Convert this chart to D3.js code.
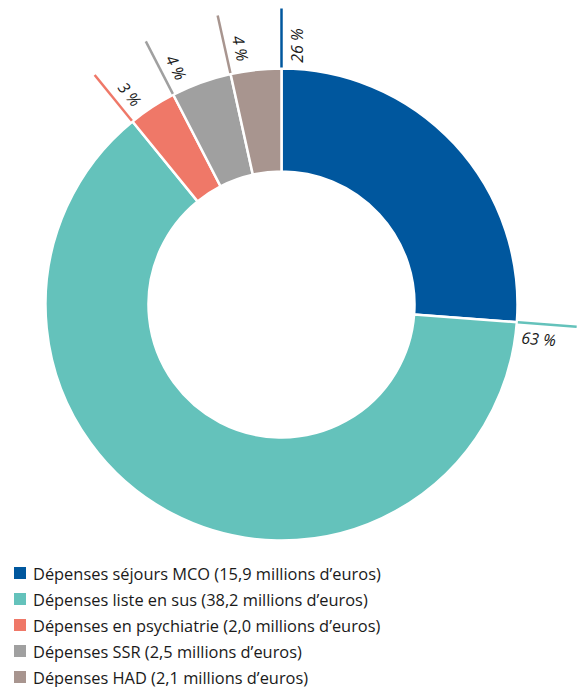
<!DOCTYPE html>
<html><head><meta charset="utf-8">
<script src="https://cdn.jsdelivr.net/npm/d3@7"></script>
<style>body{margin:0;background:#fff}svg{display:block}</style>
</head><body>
<svg id="c" width="577" height="687"></svg>
<script>
const categories = ["Dépenses séjours MCO (15,9 millions d’euros)","Dépenses liste en sus (38,2 millions d’euros)","Dépenses en psychiatrie (2,0 millions d’euros)","Dépenses SSR (2,5 millions d’euros)","Dépenses HAD (2,1 millions d’euros)"];
const values = [15.9, 38.2, 2.0, 2.5, 2.1];
const pctLabels = ["26 %","63 %","3 %","4 %","4 %"];
const colors = ["#00579e","#64c2bb","#ef7868","#a0a0a0","#a8958f"];

const svg = d3.select("#c");
const cx = 281.5, cy = 304.5, R = 236, r0 = 133, Rline = 296;
const g = svg.append("g").attr("transform",`translate(${cx},${cy})`);
const pie = d3.pie().sort(null).value(d=>d);
const arcs = pie(values);
const arc = d3.arc().innerRadius(r0).outerRadius(R);
g.selectAll("path.s").data(arcs).join("path").attr("class","s")
  .attr("d",arc).attr("fill",(d,i)=>colors[i]).attr("stroke","#fff").attr("stroke-width",2.5);

// leader lines at each slice's start angle
g.selectAll("line.l").data(arcs).join("line").attr("class","l")
  .attr("x1",d=>Math.sin(d.startAngle)*(R+1)).attr("y1",d=>-Math.cos(d.startAngle)*(R+1))
  .attr("x2",d=>Math.sin(d.startAngle)*Rline).attr("y2",d=>-Math.cos(d.startAngle)*Rline)
  .attr("stroke",(d,i)=>colors[i]).attr("stroke-width",2.5);

// labels
const labR = 259, off = 15;
g.selectAll("text.p").data(arcs).join("text").attr("class","p")
  .attr("transform",(d,i)=>{
    const a = d.startAngle;
    const ux = Math.sin(a), uy = -Math.cos(a);      // outward
    const px = Math.cos(a), py = Math.sin(a);       // clockwise perpendicular
    const x = ux*labR + px*off, y = uy*labR + py*off;
    let rot = Math.atan2(uy, ux)*180/Math.PI;       // reading outward
    if (rot > 90 || rot < -90) rot += 180;
    if (rot > 180) rot -= 360;
    return `translate(${x},${y}) rotate(${rot})`;
  })
  .attr("text-anchor","middle").attr("dominant-baseline","central")
  .attr("font-family","'Open Sans', sans-serif").attr("font-style","italic").attr("font-size",16).attr("fill","#1a1a1a")
  .text((d,i)=>pctLabels[i]);

// legend
const leg = svg.append("g");
const y0 = 573, dy = 26;
categories.forEach((c,i)=>{
  const y = y0 + i*dy;
  leg.append("rect").attr("x",14).attr("y",y-6).attr("width",12).attr("height",12).attr("fill",colors[i]);
  leg.append("text").attr("x",33).attr("y",y).attr("dominant-baseline","central")
    .attr("font-family","'Open Sans', sans-serif").attr("font-size",16.4).attr("fill","#1a1a1a").text(c);
});
</script>
</body></html>
